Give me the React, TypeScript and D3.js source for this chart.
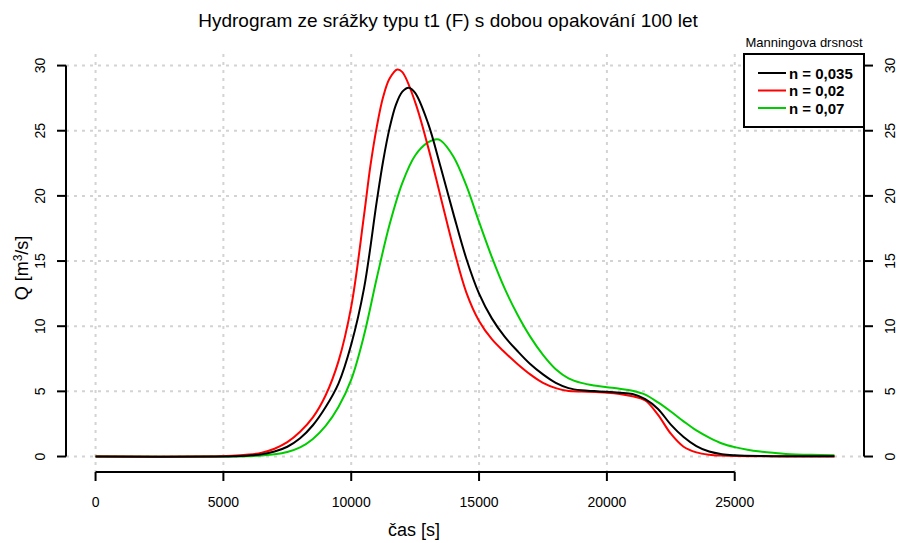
import React from "react";
import * as d3 from "d3";

const titleText = "Hydrogram ze srážky typu t1 (F) s dobou opakování 100 let";
const xLabel = "čas [s]";
const legendTitle = "Manningova drsnost";
const xTicks = [0, 5000, 10000, 15000, 20000, 25000];
const yTicks = [0, 5, 10, 15, 20, 25, 30];

const tBlack = [0,5000,5500,6000,6500,7000,7500,8000,8500,9000,9500,10000,10500,11000,11250,11500,11750,12000,12250,12500,13000,13500,14000,14500,15000,15500,16000,16500,17000,17500,18000,18500,19000,19500,20000,20500,21000,21500,22000,22500,23000,23500,24000,24500,25000,26000,27000,28900];
const qBlack = [0,0,0.03,0.08,0.17,0.38,0.75,1.4,2.4,3.8,5.6,8.6,12.9,19.6,22.7,25.2,27.0,28.0,28.3,27.9,25.6,22.2,18.6,15.2,12.5,10.6,9.2,8.1,7.1,6.3,5.65,5.25,5.08,5.02,4.97,4.9,4.8,4.4,3.65,2.45,1.5,0.8,0.38,0.18,0.1,0.04,0.02,0.02];

const tRed = [0,4500,5000,5500,6000,6500,7000,7500,8000,8500,9000,9500,10000,10500,10750,11000,11250,11500,11800,12000,12500,13000,13500,14000,14500,15000,15500,16000,16500,17000,17500,18000,18500,19000,19500,20000,20500,21000,21500,22000,22500,23000,23500,24000,24500,25000,26000,27000,28900];
const qRed = [0,0,0.03,0.07,0.15,0.3,0.6,1.1,1.9,3.0,4.7,7.3,11.5,18.5,22.3,25.3,27.6,29.0,29.7,29.5,27.2,23.8,19.9,16.0,12.6,10.4,9.0,8.0,7.1,6.3,5.65,5.25,5.03,4.98,4.95,4.9,4.8,4.62,4.3,3.2,1.75,0.75,0.32,0.14,0.07,0.04,0.02,0.01,0.01];

const tGreen = [0,5500,6000,6500,7000,7500,8000,8500,9000,9500,10000,10500,11000,11500,12000,12500,13000,13350,13500,14000,14500,15000,15500,16000,16500,17000,17500,18000,18500,19000,19500,20000,20500,21000,21500,22000,22500,23000,23500,24000,24500,25000,25500,26000,26500,27000,28000,28900];
const qGreen = [0,0,0.03,0.08,0.17,0.35,0.7,1.35,2.35,3.8,5.9,9.3,13.7,17.8,21.0,23.1,24.1,24.35,24.25,23.0,20.8,18.0,15.3,12.9,10.9,9.2,7.8,6.7,6.0,5.65,5.45,5.32,5.2,5.05,4.75,4.15,3.45,2.7,2.0,1.45,1.0,0.72,0.52,0.38,0.28,0.2,0.13,0.1];

const seriesNames = ["n = 0,035", "n = 0,02", "n = 0,07"];
const seriesColors = ["#000000", "#ff0000", "#00cd00"];

const FONT = "Liberation Sans, Arial, Helvetica, sans-serif";

export default function App() {
  const xMin = 0, xMax = 28900, yMin = 0, yMax = 29.7;
  const xExt = (xMax - xMin) * 0.04;
  const yExt = (yMax - yMin) * 0.04;
  const left = 66, right = 864, top = 54, bottom = 472;
  const x = d3.scaleLinear().domain([xMin - xExt, xMax + xExt]).range([left, right]);
  const y = d3.scaleLinear().domain([yMin - yExt, yMax + yExt]).range([bottom, top]);

  const series = [
    { t: tBlack, q: qBlack },
    { t: tRed, q: qRed },
    { t: tGreen, q: qGreen },
  ];
  const line = d3
    .line<[number, number]>()
    .x((d) => x(d[0]))
    .y((d) => y(Math.max(0, d[1])))
    .curve(d3.curveCatmullRom.alpha(0.5));

  const gridColor = "#d3d3d3";
  const drawIdx = [2, 1, 0];

  return (
    <svg
      width={901}
      height={543}
      style={{ position: "absolute", left: 0, top: 0, background: "#fff" }}
      fontFamily={FONT}
    >
      <rect x={0} y={0} width={901} height={543} fill="#fff" />
      {xTicks.map((v) => (
        <line key={"gx" + v} x1={x(v)} x2={x(v)} y1={top} y2={bottom} stroke={gridColor} strokeWidth={2} strokeDasharray="3,5" />
      ))}
      {yTicks.map((v) => (
        <line key={"gy" + v} x1={left} x2={right} y1={y(v)} y2={y(v)} stroke={gridColor} strokeWidth={2} strokeDasharray="3,5" />
      ))}
      {drawIdx.map((k) => {
        const s = series[k];
        return (
          <path
            key={"s" + k}
            d={line(s.t.map((t, j) => [t, s.q[j]] as [number, number])) || ""}
            fill="none"
            stroke={seriesColors[k]}
            strokeWidth={2}
          />
        );
      })}
      <line x1={left} x2={left} y1={y(0)} y2={y(30)} stroke="#000" strokeWidth={2} />
      {yTicks.map((v) => (
        <g key={"ly" + v}>
          <line x1={left - 9} x2={left} y1={y(v)} y2={y(v)} stroke="#000" strokeWidth={2} />
          <text transform={`translate(${left - 21},${y(v)}) rotate(-90)`} textAnchor="middle" fontSize={14} fill="#000">
            {v}
          </text>
        </g>
      ))}
      <line x1={right} x2={right} y1={y(0)} y2={y(30)} stroke="#000" strokeWidth={2} />
      {yTicks.map((v) => (
        <g key={"ry" + v}>
          <line x1={right} x2={right + 9} y1={y(v)} y2={y(v)} stroke="#000" strokeWidth={2} />
          <text transform={`translate(${right + 31},${y(v)}) rotate(-90)`} textAnchor="middle" fontSize={14} fill="#000">
            {v}
          </text>
        </g>
      ))}
      <line x1={x(0)} x2={x(25000)} y1={bottom} y2={bottom} stroke="#000" strokeWidth={2} />
      {xTicks.map((v) => (
        <g key={"bx" + v}>
          <line x1={x(v)} x2={x(v)} y1={bottom} y2={bottom + 9} stroke="#000" strokeWidth={2} />
          <text x={x(v)} y={bottom + 35} textAnchor="middle" fontSize={14} fill="#000">
            {v}
          </text>
        </g>
      ))}
      <text x={414} y={536} textAnchor="middle" fontSize={18} fill="#000">
        {xLabel}
      </text>
      <text transform={`translate(28,268) rotate(-90)`} textAnchor="middle" fontSize={18} fill="#000">
        Q [m<tspan dy={-6} fontSize={12}>3</tspan>
        <tspan dy={6}>/s]</tspan>
      </text>
      <text x={448} y={27} textAnchor="middle" fontSize={19} fill="#000">
        {titleText}
      </text>
      <text x={804} y={47} textAnchor="middle" fontSize={13} fill="#000">
        {legendTitle}
      </text>
      <rect x={744} y={54} width={120} height={73} fill="#fff" stroke="#000" strokeWidth={2} />
      {seriesNames.map((n, i) => (
        <g key={"lg" + i}>
          <line x1={758} x2={786} y1={73 + i * 17.5} y2={73 + i * 17.5} stroke={seriesColors[i]} strokeWidth={2} />
          <text x={789} y={73 + i * 17.5 + 5.5} fontSize={15} fontWeight="bold" fill="#000">
            {n}
          </text>
        </g>
      ))}
    </svg>
  );
}
